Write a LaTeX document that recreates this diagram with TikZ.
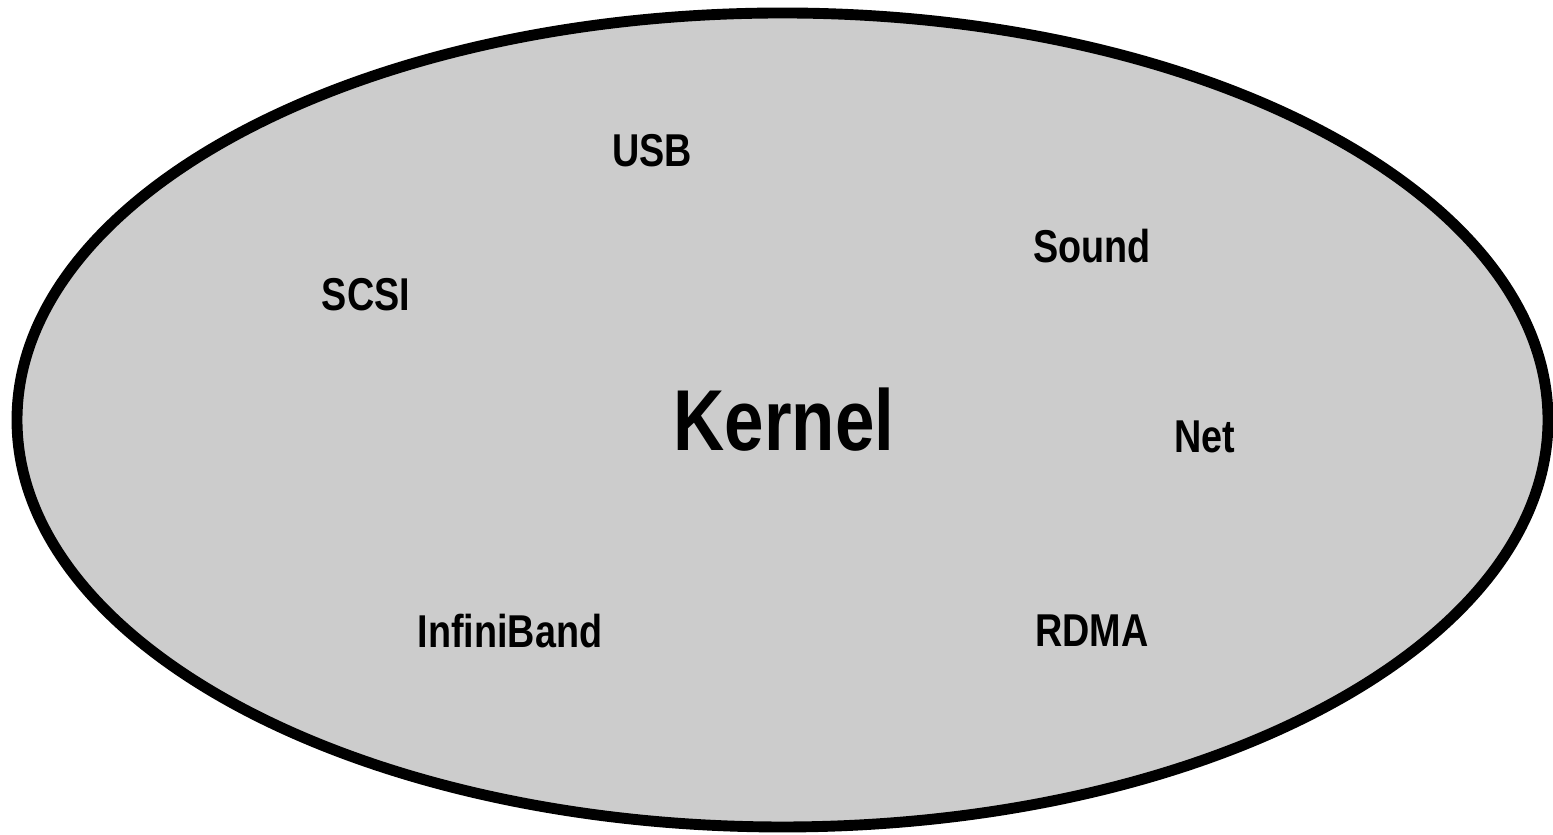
\documentclass[tikz,border=0pt]{standalone}
\usepackage{fontspec}
\setmainfont{Liberation Sans}[FakeStretch=0.82]
\usepackage{tikz}
\usetikzlibrary{positioning}
\definecolor{kernelfill}{RGB}{204,204,204}

\tikzset{
  sub/.style={font=\fontsize{13.1}{15}\selectfont\bfseries, inner sep=0pt},
  core/.style={font=\fontsize{24.6}{28}\selectfont\bfseries, inner sep=0pt}
}

\begin{document}
\begin{tikzpicture}
    \useasboundingbox (0,0) rectangle (15.53,8.35);

    % --- Kernel (elipse) ---
    \draw[fill=kernelfill, line width=3.1pt] (7.825,4.15) ellipse [x radius=7.655, y radius=4.07];

    % --- Rotulo central ---
    \node[core] (kernel) at (7.84,4.15) {Kernel};

    % --- Subsistemas ---
    \node[sub] (usb)   at (6.52,6.84) {USB};
    \node[sub] (sound) at (10.92,5.89) {Sound};
    \node[sub] (scsi)  at (3.66,5.40) {SCSI};
    \node[sub] (net)   at (12.05,3.98) {Net};
    \node[sub] (ib)    at (5.10,2.04) {InfiniBand};
    \node[sub] (rdma)  at (10.92,2.04) {RDMA};
\end{tikzpicture}
\end{document}
